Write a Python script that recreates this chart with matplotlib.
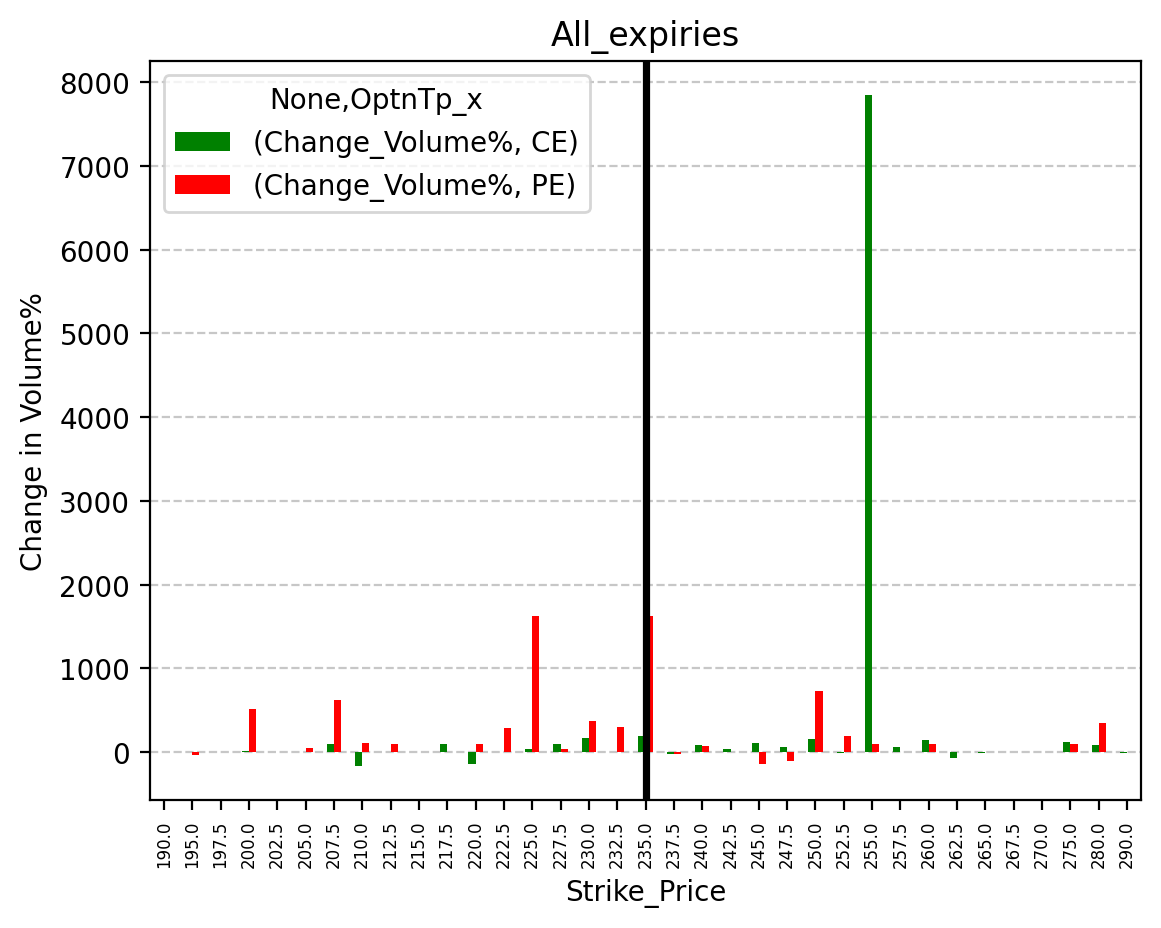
import numpy as np
import matplotlib
matplotlib.use('Agg')
import matplotlib.pyplot as plt

strikes = ['190.0', '195.0', '197.5', '200.0', '202.5', '205.0', '207.5', '210.0',
           '212.5', '215.0', '217.5', '220.0', '222.5', '225.0', '227.5', '230.0',
           '232.5', '235.0', '237.5', '240.0', '242.5', '245.0', '247.5', '250.0',
           '252.5', '255.0', '257.5', '260.0', '262.5', '265.0', '267.5', '270.0',
           '275.0', '280.0', '290.0']
ce = [0, 0, 0, 8, 0, 0, 92, -169, 0, 0, 92, -137, 0, 32, 92, 165,
      -4, 189, -24, 80, 32, 104, 56, 152, -8, 7850, 56, 140, -76, -10,
      0, 0, 116, 80, -8]
pe = [0, -36, 0, 514, 0, 44, 622, 104, 92, 0, 0, 92, 285, 1630, 32, 370,
      297, 1620, -20, 68, 0, -148, -112, 730, 189, 92, 0, 92, 0, 0,
      0, 0, 92, 344, 0]
atm_strike = '235.0'

fig, ax = plt.subplots(figsize=(5.805, 4.645), dpi=200)
fig.subplots_adjust(left=0.129, right=0.983, top=0.933, bottom=0.138)

x = np.arange(len(strikes))
w = 0.25
ax.bar(x - w / 2, ce, w, color='green', label='(Change_Volume%, CE)')
ax.bar(x + w / 2, pe, w, color='red', label='(Change_Volume%, PE)')

ax.axvline(x=strikes.index(atm_strike), color='black', linewidth=2.6)

ax.set_xticks(x)
ax.set_xticklabels(strikes, rotation=90, fontsize=6)
ax.set_xlim(-0.5, len(strikes) - 0.5)
ax.set_xlabel('Strike_Price')
ax.set_ylabel('Change in Volume%')
ax.set_title('All_expiries')
ax.grid(True, axis='y', linestyle='--', alpha=0.7)
ax.set_axisbelow(True)
ax.legend(title='None,OptnTp_x', loc='upper left')

plt.savefig('out.png', dpi=200)
print("saved out.png")
